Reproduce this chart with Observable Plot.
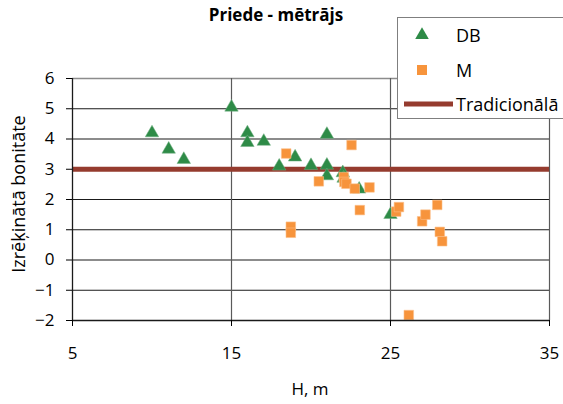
<!DOCTYPE html>
<html><head><meta charset="utf-8">
<script src="https://cdn.jsdelivr.net/npm/d3@7"></script>
<script src="https://cdn.jsdelivr.net/npm/@observablehq/plot@0.6"></script>
<style>
body{margin:0;background:#fff;}
#wrap{position:relative;width:563px;height:404px;font-family:"Open Sans",sans-serif;color:#000;overflow:hidden;}
#title{position:absolute;left:0;top:3px;width:552px;text-align:center;font-weight:bold;font-size:17px;}
#ylab{position:absolute;left:18px;top:194px;transform:translate(-50%,-50%) rotate(-90deg);white-space:nowrap;font-size:18px;}
#xlab{position:absolute;left:310px;top:377px;transform:translateX(-50%);font-size:17px;}
#legend{position:absolute;left:397px;top:17px;width:170px;height:100px;border:1px solid #7f7f7f;background:#fff;font-size:18px;}
.li{position:absolute;left:0;height:24px;display:flex;align-items:center;}
.li svg{flex:none;}
</style></head><body>
<div id="wrap">
<div id="title">Priede - mētrājs</div>
<div id="ylab">Izrēķinātā bonitāte</div>
<div id="xlab">H, m</div>
</div>
<script>
// DB series (triangles)
const dbH = [10, 11.05, 12, 15, 16, 16, 17.03, 18, 19, 20, 21, 21, 21, 22, 22.05, 23.03, 25];
const dbB = [4.2, 3.66, 3.32, 5.05, 4.2, 3.88, 3.92, 3.1, 3.4, 3.12, 4.15, 3.13, 2.78, 2.88, 2.7, 2.34, 1.5];
// M series (squares)
const mH = [18.44, 18.73, 18.73, 20.49, 22.55, 22.06, 22.1, 22.23, 22.75, 23.68, 23.07, 25.36, 25.53, 26.15, 26.99, 27.2, 27.94, 28.1, 28.25];
const mB = [3.52, 1.1, 0.9, 2.6, 3.8, 2.74, 2.58, 2.52, 2.36, 2.4, 1.65, 1.6, 1.75, -1.82, 1.28, 1.5, 1.82, 0.93, 0.62];
const traditional = [3];
const xTicks = [5, 15, 25, 35];
const yTicks = [-2, -1, 0, 1, 2, 3, 4, 5, 6];
const colDB = "#2e8b47", colM = "#f7943c", colT = "#953b2e";

const db = dbH.map((h, i) => ({h, b: dbB[i]}));
const m = mH.map((h, i) => ({h, b: mB[i]}));

const chart = Plot.plot({
  width: 563, height: 404,
  marginLeft: 72, marginRight: 14, marginTop: 78, marginBottom: 84,
  style: {fontFamily: "Open Sans, sans-serif", fontSize: "17px", color: "#000", background: "transparent"},
  x: {domain: [5, 35]},
  y: {domain: [-2, 6]},
  marks: [
    Plot.ruleY(yTicks.filter(d => d !== 6 && d !== -2), {stroke: "#1a1a1a", strokeWidth: 1.2}),
    Plot.ruleY([6], {stroke: "#8c8c8c", strokeWidth: 1.5}),
    Plot.ruleX(xTicks.filter(d => d !== 5), {stroke: "#5a5a5a", strokeWidth: 1.2}),
    Plot.ruleY(traditional, {stroke: colT, strokeWidth: 5}),
    Plot.dot(db, {x: "h", y: "b", symbol: "triangle", r: 5, fill: colDB, stroke: "#6fae80", strokeWidth: 0.5}),
    Plot.dot(m, {x: "h", y: "b", symbol: "square", r: 5.4, fill: colM, stroke: "#fbc08a", strokeWidth: 0.6}),
    Plot.ruleX([5], {stroke: "#1a1a1a", strokeWidth: 1.3}),
    Plot.ruleY([-2], {stroke: "#1a1a1a", strokeWidth: 1.3}),
    Plot.axisY({ticks: yTicks, tickSize: 6, tickPadding: 12, label: null}),
    Plot.axisX({ticks: xTicks, tickSize: 6, tickPadding: 20, label: null})
  ]
});
const wrap = document.getElementById("wrap");
chart.style.position = "absolute";
chart.style.left = "0"; chart.style.top = "0";
wrap.insertBefore(chart, wrap.firstChild);

// legend
const legend = document.createElement("div");
legend.id = "legend";
const items = [
  {label: "DB", sym: `<path d="${d3.symbol(d3.symbolTriangle, 80)()}" transform="translate(24,13)" fill="${colDB}"/>`, top: 5},
  {label: "M", sym: `<rect x="19" y="8" width="10" height="10" fill="${colM}"/>`, top: 40},
  {label: "Tradicionālā", sym: `<line x1="6" x2="55" y1="13" y2="13" stroke="${colT}" stroke-width="5"/>`, top: 74}
];
items.forEach(it => {
  const d = document.createElement("div");
  d.className = "li";
  d.style.top = it.top + "px";
  d.innerHTML = `<svg width="58" height="26">${it.sym}</svg><span>${it.label}</span>`;
  legend.appendChild(d);
});
wrap.appendChild(legend);
</script>
</body></html>
